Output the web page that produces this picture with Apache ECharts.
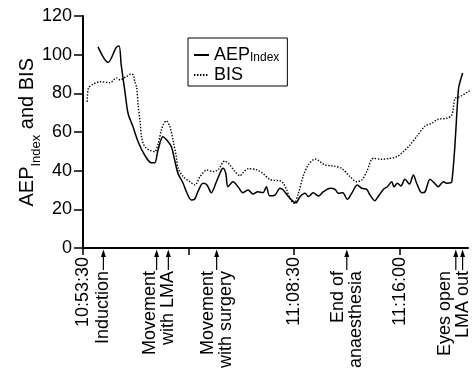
<!DOCTYPE html>
<html>
<head>
<meta charset="utf-8">
<script src="https://cdn.jsdelivr.net/npm/echarts@6/dist/echarts.min.js"></script>
<style>
html,body{margin:0;padding:0;background:#fff;}
#chart{width:475px;height:369px;}
</style>
</head>
<body>
<div id="chart"></div>
<script>
// Time in seconds after 10:53:30
const aepTime = [64,107,142,154,163,178,192,213,235,263,
  291,306,320,341,363,377,391,405,427,441,
  462,476,490,512,529,547,569,590,597,609,
  618,640,661,682,704,725,746,768,782,796,
  819,840,854,876,897,908,926,947,961,982,
  1004,1025,1054,1075,1089,1108,1127,1146,1170,1189,
  1210,1224,1245,1259,1281,1298,1317,1326,1341,1356,
  1373,1392,1409,1423,1445,1459,1480,1497,1515,1537,
  1551,1573,1601,1606,1619];
const aepValues = [104,96,103.8,104.5,94.7,81.7,69.7,62.8,55,48.1,
  44.1,44.1,50.7,57.6,55,52.4,45.5,38.6,33.5,29.1,
  24.8,25.2,29.1,33.5,32.6,28.6,34.3,40.3,41.2,38.6,
  31.7,34.3,31.7,28.6,30,27.9,29.1,28.6,31.7,27,
  27.4,30.9,30,26.6,24,23.4,26.6,28.3,26.6,28.6,
  26.9,29.1,30.9,30.3,28.3,28.6,25.2,28.3,32.6,30.9,
  30.3,27.4,24.5,26.6,30.3,31.7,34.3,31.7,33.5,32.1,
  35.5,33.1,37.8,33.5,28.6,29.1,35.5,33.8,31.7,34.3,
  33.5,34.3,82,85,90.5];

const bisTime = [18,23,44,73,115,142,158,183,206,215,
  221,229,235,243,249,257,270,286,306,321,
  334,343,355,371,385,398,406,428,456,478,
  499,528,556,577,604,626,648,670,683,704,
  739,768,796,819,840,854,869,883,900,918,
  940,961,990,1032,1068,1103,1139,1167,1189,1210,
  1238,1274,1309,1338,1366,1395,1423,1459,1487,1515,
  1551,1573,1587,1608,1644,1672];
const bisValues = [75.7,82.6,84.8,86,85.5,88,87,88.5,90,89.5,
  86,83,74,66,58,54,51.6,50.5,49.8,54.2,
  61,64,65.8,62.7,55,47.2,41,36.9,34.3,32.6,
  36.9,40.3,39.5,40.5,45,43,39.5,37.4,39,41,
  40.5,38.5,35.5,35,34.8,33.5,30,25.5,23.1,28,
  37.5,43,46,43,42.4,41.2,36.9,34.3,35.2,39.5,
  46.4,45.9,46.4,47.2,49.8,53.3,57.6,63.1,64.5,66.6,
  67.1,68.8,77.4,78.3,80.9,82.6];

const timeTickValues = [0, 450, 900, 1350];
const timeTickLabels = ['10:53:30', '', '11:08:30', '11:16:00'];

const eventLabels = ['Induction', 'Movement\nwith LMA', 'Movement\nwith surgery', 'End of\nanaesthesia', 'Eyes open\nLMA out'];
const eventArrows = [[87], [314, 364], [570], [1125], [1590, 1619]];

const FONT = "'Liberation Sans', Arial, Helvetica, sans-serif";
const chart = echarts.init(document.getElementById('chart'), null, {renderer: 'canvas'});

const zip = (a, b) => a.map((v, i) => [v, b[i]]);

chart.setOption({
  animation: false,
  backgroundColor: '#fff',
  grid: {left: 83, right: 7, top: 16, bottom: 121},
  legend: {
    left: 188, top: 38,
    orient: 'vertical',
    data: ['AEP', 'BIS'],
    itemWidth: 15, itemHeight: 12, itemGap: 2,
    padding: [8, 8, 2, 5],
    borderColor: '#000', borderWidth: 1, borderRadius: 0,
    itemStyle: {opacity: 0},
    formatter: n => n === 'AEP' ? '{a|AEP}{s|Index}' : '{a|BIS}',
    textStyle: {
      color: '#000', fontFamily: FONT, fontSize: 18,
      rich: {
        a: {fontSize: 18, lineHeight: 18, fontFamily: FONT, color: '#000', verticalAlign: 'bottom'},
        s: {fontSize: 12, lineHeight: 12, fontFamily: FONT, color: '#000', verticalAlign: 'bottom'}
      }
    }
  },
  xAxis: {
    type: 'value', min: 0, max: 1642,
    splitLine: {show: false},
    axisLine: {lineStyle: {color: '#000', width: 2}},
    axisTick: {show: true, customValues: timeTickValues, length: 7, lineStyle: {color: '#000', width: 1.5}},
    axisLabel: {
      customValues: [0, 900, 1350],
      rotate: 90, margin: 9,
      color: '#000', fontFamily: FONT, fontSize: 18,
      formatter: v => timeTickLabels[timeTickValues.indexOf(v)] || ''
    }
  },
  yAxis: {
    type: 'value', min: 0, max: 120, interval: 20,
    splitLine: {show: false},
    axisLine: {show: true, lineStyle: {color: '#000', width: 2}},
    axisTick: {show: true, length: 9, lineStyle: {color: '#000', width: 1.5}},
    axisLabel: {color: '#000', fontFamily: FONT, fontSize: 18, margin: 11},
    name: '{a|AEP}{s|Index}{a| and BIS}{z| }',
    nameLocation: 'middle', nameRotate: 90, nameGap: 40, nameMoveOverlap: false,
    nameTextStyle: {
      color: '#000', fontFamily: FONT,
      rich: {
        a: {fontSize: 20, lineHeight: 20, fontFamily: FONT, color: '#000', verticalAlign: 'top'},
        s: {fontSize: 13, lineHeight: 13, fontFamily: FONT, color: '#000', verticalAlign: 'bottom'},
        z: {fontSize: 2, lineHeight: 26}
      }
    }
  },
  series: [
    {
      name: 'AEP', type: 'line', data: zip(aepTime, aepValues),
      symbol: 'none', smooth: 0.3, clip: false,
      lineStyle: {color: '#000', width: 1.5, type: 'solid'},
      itemStyle: {color: '#000'}
    },
    {
      name: 'BIS', type: 'line', data: zip(bisTime, bisValues),
      symbol: 'none', smooth: 0.3, clip: false,
      lineStyle: {color: '#000', width: 1.4, type: [1.4, 1.6]},
      itemStyle: {color: '#000'}
    },
    {
      name: 'events', type: 'custom', coordinateSystem: 'cartesian2d', clip: false, silent: true,
      data: eventLabels.map((l, i) => [eventArrows[i][eventArrows[i].length - 1], i]),
      renderItem: (params, api) => {
        const i = api.value(1);
        const times = eventArrows[i];
        const children = [];
        times.forEach(t => {
          const p = api.coord([t, 0]);
          children.push({type: 'line', shape: {x1: p[0], y1: p[1] + 6, x2: p[0], y2: p[1] + 22},
            style: {stroke: '#000', lineWidth: 1.2}});
          children.push({type: 'polygon', shape: {points: [[p[0], p[1] + 1.5], [p[0] - 2.5, p[1] + 9], [p[0] + 2.5, p[1] + 9]]},
            style: {fill: '#000'}});
        });
        const first = api.coord([times[0], 0]);
        const last = api.coord([times[times.length - 1], 0]);
        const lh = 18;
        const cx = times.length > 1 ? last[0] - lh / 2 : first[0];
        children.push({
          type: 'text', x: cx, y: first[1] + 23, rotation: Math.PI / 2,
          style: {text: eventLabels[i], align: 'right', verticalAlign: 'middle',
            font: '18px ' + FONT, lineHeight: lh, fill: '#000'}
        });
        return {type: 'group', children};
      }
    }
  ]
});
</script>
</body>
</html>
